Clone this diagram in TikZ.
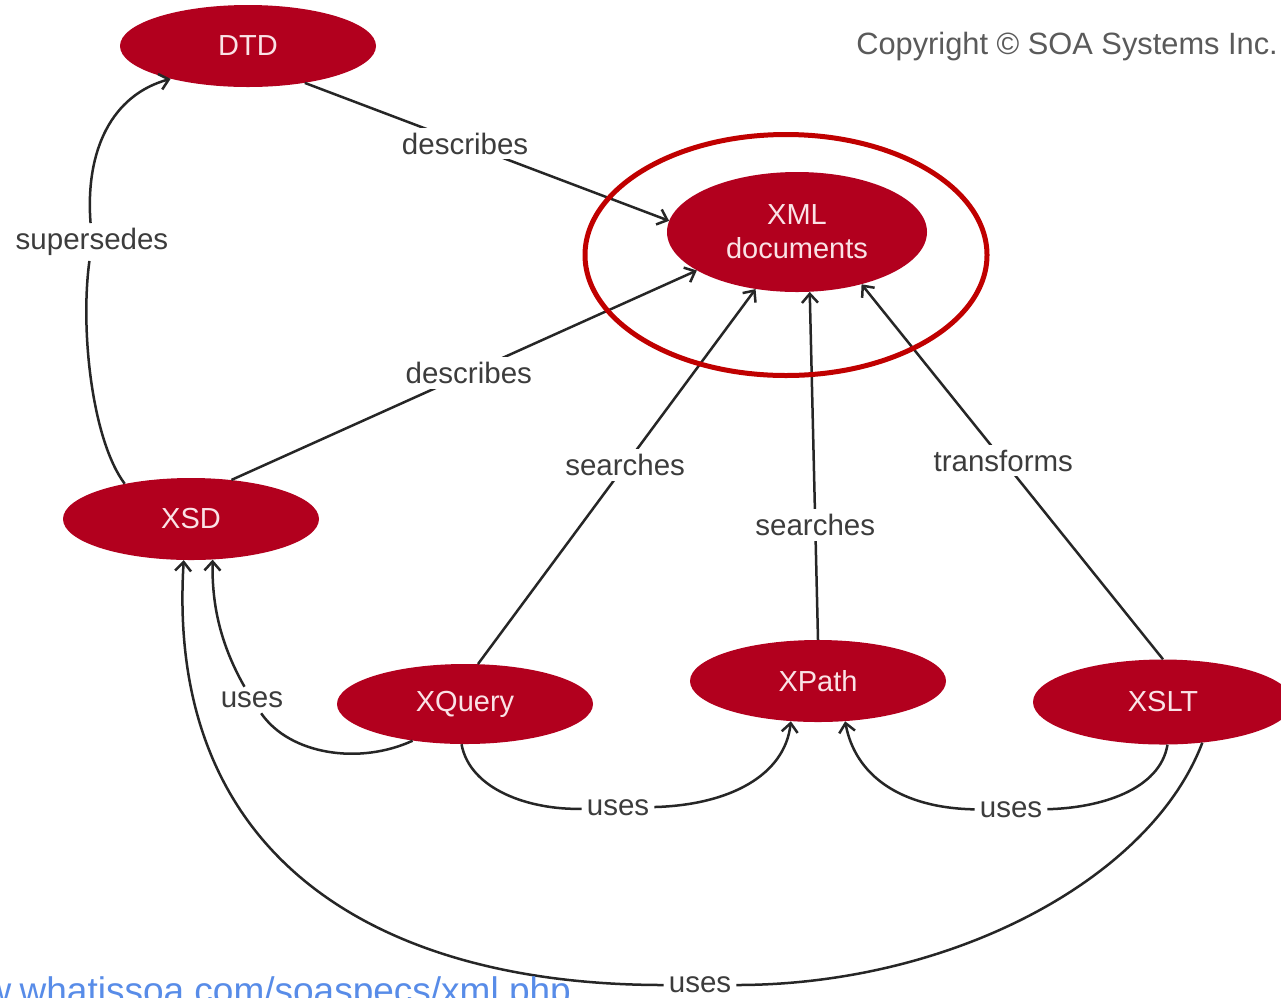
\documentclass[tikz,border=0pt]{standalone}
\usepackage{fontspec}
\setmainfont{Liberation Sans}
\usetikzlibrary{shapes.geometric,arrows.meta}
\definecolor{nodered}{RGB}{178,0,30}
\definecolor{ringred}{RGB}{192,0,0}
\definecolor{lblgray}{RGB}{60,60,60}
\definecolor{linkblue}{RGB}{88,140,232}
\definecolor{copygray}{RGB}{90,90,90}
\definecolor{nodetext}{RGB}{250,226,230}
\begin{document}
\begin{tikzpicture}[x=1pt,y=-1pt,
  term/.style={ellipse, fill=nodered, text=nodetext, minimum width=256pt, minimum height=82pt, inner sep=0pt, font=\fontsize{29}{34}\selectfont, align=center},
  lbl/.style={fill=white, text=lblgray, font=\fontsize{29.5}{34}\selectfont, inner sep=5pt},
  rel/.style={draw=black!85, line width=2.5pt, -{Straight Barb[length=9pt,width=16pt,line width=2.5pt]}},
  plain/.style={draw=black!85, line width=2.5pt},
]
\useasboundingbox[fill=white] (0,0) rectangle (1281,997);

% terms
\node[term] (dtd) at (248,46) {DTD};
\node[term, minimum width=260pt, minimum height=120pt] (xml) at (797,232) {XML\\documents};
\node[term] (xsd) at (191,519) {XSD};
\node[term, minimum height=80pt] (xq) at (465,704) {XQuery};
\node[term] (xp) at (818,681) {XPath};
\node[term, minimum width=260pt, minimum height=85pt] (xslt) at (1163,702) {XSLT};

% straight relations
\draw[rel] (dtd.-33) -- node[lbl,pos=0.44] (l1) {describes} (xml.175);
\draw[rel] (xsd.44) -- node[lbl,pos=0.51] (l2) {describes} (xml.201);
\draw[rel] (xq.72) -- node[lbl,pos=0.53] (l3) {searches} (xml.234);
\draw[rel] (xp.north) -- node[lbl,pos=0.33] (l4) {searches} (xml.-78);
\draw[rel] (xslt.north) -- node[lbl,pos=0.53] (l5) {transforms} (xml.-39);

% curved relations
\node[lbl] (lsup) at (92,242) {supersedes};
\draw[plain] (xsd.152) .. controls (92,440) and (80,330) .. (lsup);
\draw[rel] (lsup) .. controls (85,150) and (112,95) .. (dtd.-157);

\node[lbl] (lu1) at (252,700) {uses};
\draw[plain] (xq.215) .. controls (360,765) and (290,755) .. (lu1);
\draw[rel] (lu1) .. controls (218,640) and (212,600) .. (xsd.-62);

\node[lbl] (lu2) at (618,808) {uses};
\draw[plain] (xq.-95) .. controls (470,790) and (530,810) .. (lu2);
\draw[rel] (lu2) .. controls (730,805) and (785,775) .. (xp.-124);

\node[lbl] (lu3) at (1011,810) {uses};
\draw[plain] (xslt.-84) .. controls (1160,790) and (1100,808) .. (lu3);
\draw[rel] (lu3) .. controls (900,808) and (855,775) .. (xp.-56);

\node[lbl] (lu4) at (700,985) {uses};
\draw[plain] (xslt.-46) .. controls (1150,880) and (950,985) .. (lu4);
\draw[rel] (lu4) .. controls (380,985) and (165,860) .. (xsd.-100);

% highlight ring
\node[draw=ringred, line width=5pt, ellipse, minimum width=402pt, minimum height=241pt, inner sep=0pt] (ring) at (786,255) {};

% texts
\node[anchor=base east, text=copygray, font=\fontsize{30.8}{36}\selectfont, inner sep=0pt] (copy) at (1278,54) {Copyright © SOA Systems Inc.};
\node[anchor=base east, text=linkblue, font=\fontsize{37}{44}\selectfont, inner sep=0pt] (url) at (571,1003) {www.whatissoa.com/soaspecs/xml.php};
\end{tikzpicture}
\end{document}
